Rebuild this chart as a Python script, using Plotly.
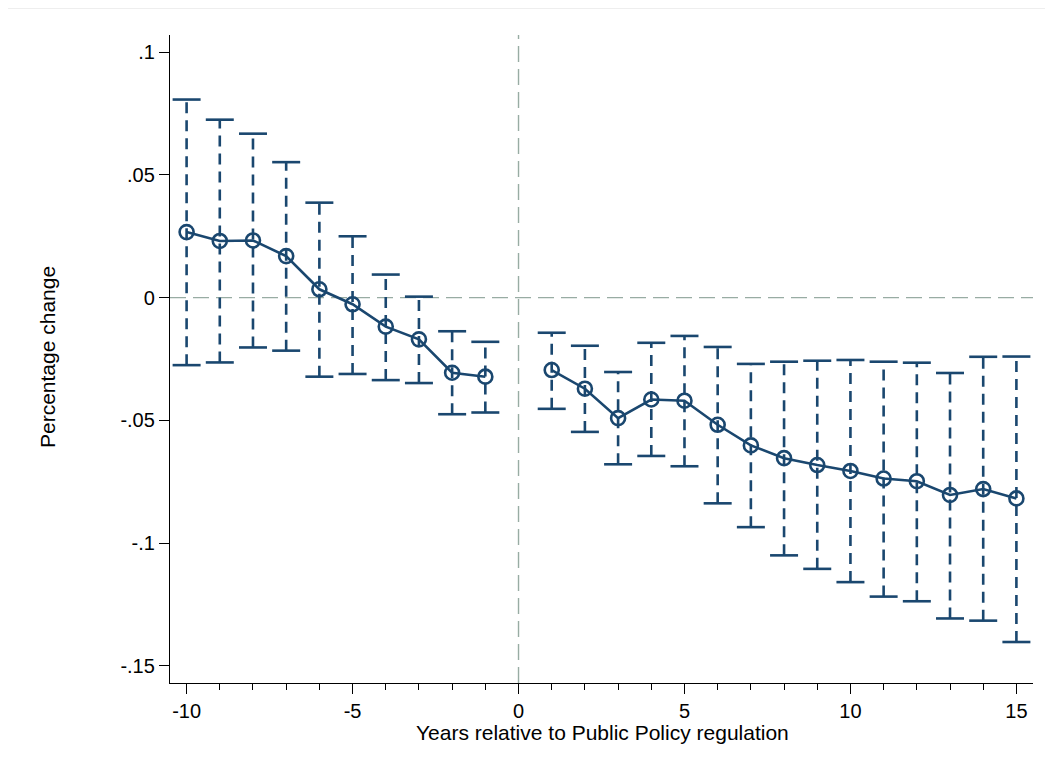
import plotly.graph_objects as go

years = [-10, -9, -8, -7, -6, -5, -4, -3, -2, -1, 1, 2, 3, 4, 5, 6, 7, 8, 9, 10, 11, 12, 13, 14, 15]
estimate = [0.0267, 0.0231, 0.0233, 0.0169, 0.0034, -0.0027, -0.0118, -0.0170, -0.0306, -0.0322,
            -0.0295, -0.0371, -0.0491, -0.0415, -0.0420, -0.0518, -0.0602, -0.0654, -0.0682, -0.0706,
            -0.0737, -0.0748, -0.0804, -0.0780, -0.0818]
ci_upper = [0.0807, 0.0725, 0.0668, 0.0552, 0.0387, 0.0250, 0.0094, 0.0004, -0.0137, -0.0180,
            -0.0143, -0.0196, -0.0303, -0.0184, -0.0156, -0.0201, -0.0270, -0.0261, -0.0257, -0.0254,
            -0.0261, -0.0265, -0.0307, -0.0241, -0.0240]
ci_lower = [-0.0275, -0.0264, -0.0203, -0.0216, -0.0322, -0.0311, -0.0336, -0.0348, -0.0475, -0.0468,
            -0.0453, -0.0547, -0.0679, -0.0645, -0.0687, -0.0838, -0.0935, -0.1050, -0.1105, -0.1159,
            -0.1218, -0.1237, -0.1307, -0.1316, -0.1403]

x_ticks = [-10, -5, 0, 5, 10, 15]
x_tick_labels = ["-10", "-5", "0", "5", "10", "15"]
y_ticks = [0.1, 0.05, 0, -0.05, -0.1, -0.15]
y_tick_labels = [".1", ".05", "0", "-.05", "-.1", "-.15"]

NAVY = "#1a476f"
REF = "#98aca3"
FONT = "Liberation Sans, Arial, sans-serif"

# page has an 8px body margin; figure sized so the plot lands where the reference has it
W, H = 1045, 764
ML, MR, MT, MB = 162, 20, 27, 89
PW, PH = W - ML - MR, H - MT - MB

fig = go.Figure()

# dashed CI spikes
seg_x, seg_y = [], []
for x, lo, hi in zip(years, ci_lower, ci_upper):
    seg_x += [x, x, None]
    seg_y += [lo, hi, None]
fig.add_trace(go.Scatter(x=seg_x, y=seg_y, mode="lines",
                         line=dict(color=NAVY, width=2.6, dash="11px,7px"),
                         hoverinfo="skip", showlegend=False))
# caps
fig.add_trace(go.Scatter(x=years + years, y=ci_upper + ci_lower, mode="markers",
                         marker=dict(symbol="line-ew", size=20,
                                     line=dict(color=NAVY, width=2.6)),
                         hoverinfo="skip", showlegend=False))

# connected estimates (gap at 0)
pre = [(x, v) for x, v in zip(years, estimate) if x < 0]
post = [(x, v) for x, v in zip(years, estimate) if x > 0]
line_x = [p[0] for p in pre] + [None] + [p[0] for p in post]
line_y = [p[1] for p in pre] + [None] + [p[1] for p in post]
fig.add_trace(go.Scatter(x=line_x, y=line_y, mode="lines+markers", connectgaps=False,
                         line=dict(color=NAVY, width=2.6),
                         marker=dict(symbol="circle-open", size=14,
                                     line=dict(color=NAVY, width=2.6)),
                         showlegend=False))

# reference lines
fig.add_shape(type="line", xref="x", yref="paper", x0=0, x1=0, y0=0, y1=1,
              line=dict(color=REF, width=1.4, dash="16px,7px"), layer="below")
fig.add_shape(type="line", xref="paper", yref="y", x0=0, x1=1, y0=0, y1=0,
              line=dict(color=REF, width=1.4, dash="16px,7px"), layer="below")
# faint outer border line at top of the graph region
fig.add_shape(type="line", xref="paper", yref="paper", x0=-ML / PW, x1=1 + MR / PW,
              y0=1 + (MT - 0.5) / PH, y1=1 + (MT - 0.5) / PH, line=dict(color="#eeeeee", width=1))

fig.update_layout(
    width=W, height=H,
    margin=dict(l=ML, r=MR, t=MT, b=MB, pad=0),
    paper_bgcolor="white", plot_bgcolor="white",
    font=dict(family=FONT, size=20, color="black"),
    xaxis=dict(range=[-10.5, 15.5], tickvals=x_ticks, ticktext=x_tick_labels,
               ticks="outside", ticklen=10,
               tickwidth=1.2, tickcolor="black", showgrid=False, zeroline=False,
               showline=True, linecolor="black", linewidth=1.3,
               minor=dict(dtick=1, ticks="outside", ticklen=6, tickcolor="black", tickwidth=1),
               tickfont=dict(size=20, family=FONT)),
    yaxis=dict(range=[-0.157, 0.107], tickvals=y_ticks, ticktext=y_tick_labels,
               ticks="outside", ticklen=10, tickwidth=1.2, tickcolor="black",
               showgrid=False, zeroline=False, showline=True, linecolor="black", linewidth=1.3,
               tickfont=dict(size=20, family=FONT)),
    annotations=[
        dict(text="Years relative to Public Policy regulation", xref="paper", yref="paper",
             x=(602 - 170) / PW, y=-(732 - 683) / PH, xanchor="center", yanchor="middle",
             showarrow=False, font=dict(size=21, family=FONT)),
        dict(text="Percentage change", xref="paper", yref="paper",
             x=-(170 - 47) / PW, y=(683 - 357) / PH, xanchor="center", yanchor="middle",
             textangle=-90, showarrow=False, font=dict(size=21, family=FONT)),
    ],
)

fig.write_html("out.html")
